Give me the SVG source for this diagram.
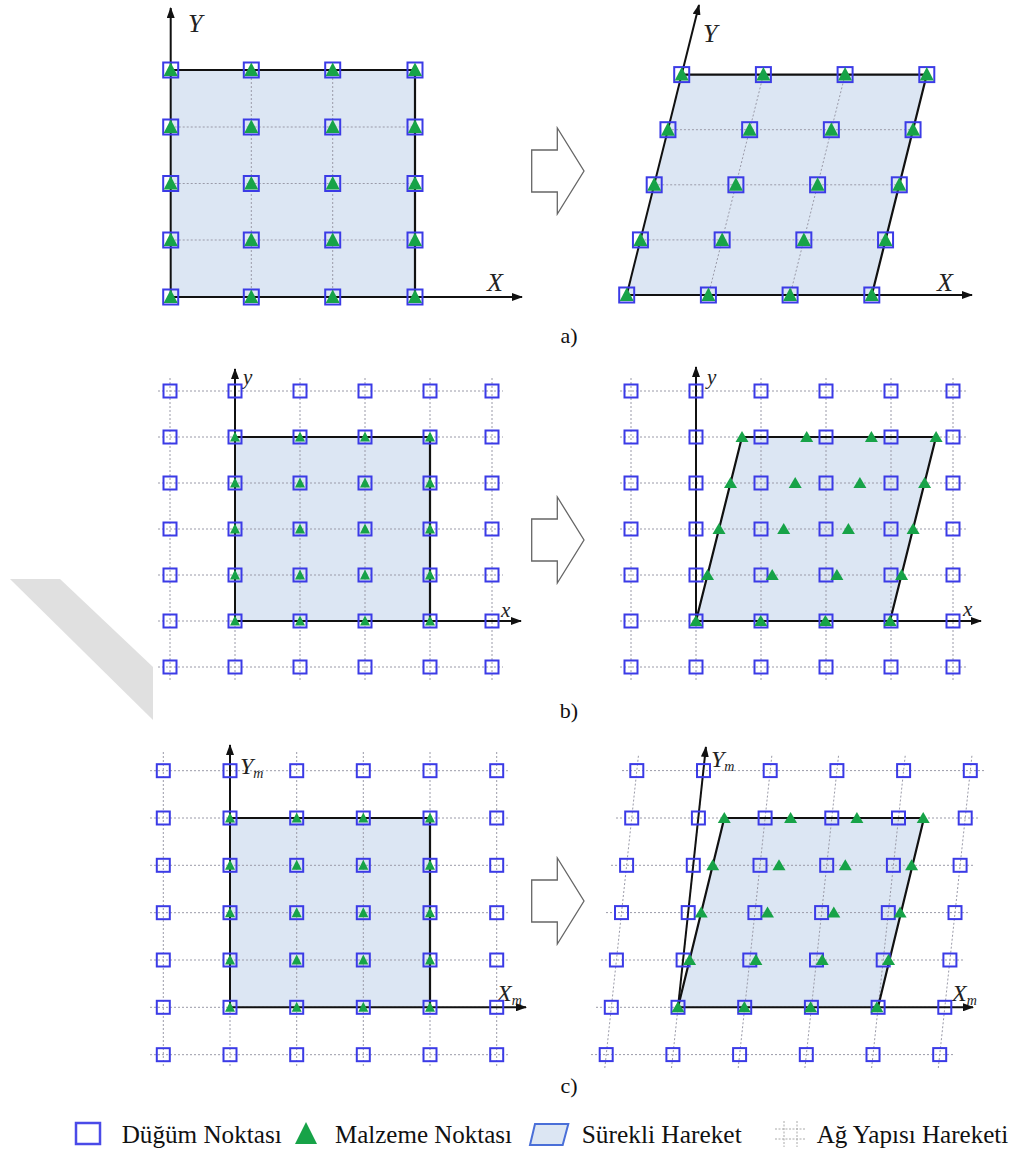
<svg xmlns="http://www.w3.org/2000/svg" width="1016" height="1153" viewBox="0 0 1016 1153">
<style>
.grid{fill:none;stroke:#9a9aa8;stroke-width:1;stroke-dasharray:2 2}
.mat{fill:#dce6f3;stroke:none}
.edge{fill:none;stroke:#111;stroke-width:2.2;stroke-linejoin:round}
.axis{stroke:#111;stroke-width:2;marker-end:url(#ah)}
.sq{fill:none;stroke:#3b3be6;stroke-width:2}
.tri{fill:#17a348}
.lbl{font-family:'Liberation Serif','DejaVu Serif',serif;font-style:italic;fill:#222}
.cap{font-family:'Liberation Serif','DejaVu Serif',serif;font-size:22px;fill:#111}
.leg{font-family:'Liberation Serif','DejaVu Serif',serif;font-size:26px;fill:#111}
.big{fill:#fff;stroke:#666;stroke-width:1.3}
.wm{fill:#e0e0e0}
</style>
<defs>
<marker id="ah" markerUnits="userSpaceOnUse" markerWidth="11" markerHeight="8" refX="10" refY="4" orient="auto"><path d="M0,0 L11,4 L0,8 Z" fill="#111"/></marker>
<rect id="sqA" class="sq" x="-7.5" y="-7.5" width="15" height="15"/>
<rect id="sq" class="sq" x="-6.5" y="-6.5" width="13" height="13"/>
<path id="triA" class="tri" d="M0,-7.5 L7,6 L-7,6 Z"/>
<path id="triS" class="tri" d="M0,-5.5 L5,4.5 L-5,4.5 Z"/>
<path id="triB" class="tri" d="M0,-6 L6.5,5 L-6.5,5 Z"/>
</defs>
<rect width="1016" height="1153" fill="#fff"/>
<polygon class="wm" points="10,579 60,579 153,667 153,720"/>

<!-- Panel a left -->
<g id="panel-a-left">
<rect class="mat" x="170.7" y="70" width="244.3" height="227"/>
<g class="grid">
<line x1="170.7" y1="127" x2="415" y2="127"/><line x1="170.7" y1="183.5" x2="415" y2="183.5"/><line x1="170.7" y1="240" x2="415" y2="240"/>
<line x1="251.3" y1="70" x2="251.3" y2="297"/><line x1="332.7" y1="70" x2="332.7" y2="297"/>
</g>
<path class="edge" d="M170.7,70 H415 V297"/>
<line class="axis" x1="170.7" y1="297" x2="170.7" y2="8"/>
<line class="axis" x1="170.7" y1="297" x2="522" y2="297"/>
<text class="lbl" x="188" y="32" font-size="26">Y</text>
<text class="lbl" x="487" y="291" font-size="26">X</text>
<g id="a-left-nodes">
<use href="#sqA" x="170.7" y="70"/><use href="#sqA" x="251.3" y="70"/><use href="#sqA" x="332.7" y="70"/><use href="#sqA" x="415" y="70"/>
<use href="#sqA" x="170.7" y="127"/><use href="#sqA" x="251.3" y="127"/><use href="#sqA" x="332.7" y="127"/><use href="#sqA" x="415" y="127"/>
<use href="#sqA" x="170.7" y="183.5"/><use href="#sqA" x="251.3" y="183.5"/><use href="#sqA" x="332.7" y="183.5"/><use href="#sqA" x="415" y="183.5"/>
<use href="#sqA" x="170.7" y="240"/><use href="#sqA" x="251.3" y="240"/><use href="#sqA" x="332.7" y="240"/><use href="#sqA" x="415" y="240"/>
<use href="#sqA" x="170.7" y="297"/><use href="#sqA" x="251.3" y="297"/><use href="#sqA" x="332.7" y="297"/><use href="#sqA" x="415" y="297"/>
</g>
<g id="a-left-material">
<use href="#triA" x="170.7" y="70"/><use href="#triA" x="251.3" y="70"/><use href="#triA" x="332.7" y="70"/><use href="#triA" x="415" y="70"/>
<use href="#triA" x="170.7" y="127"/><use href="#triA" x="251.3" y="127"/><use href="#triA" x="332.7" y="127"/><use href="#triA" x="415" y="127"/>
<use href="#triA" x="170.7" y="183.5"/><use href="#triA" x="251.3" y="183.5"/><use href="#triA" x="332.7" y="183.5"/><use href="#triA" x="415" y="183.5"/>
<use href="#triA" x="170.7" y="240"/><use href="#triA" x="251.3" y="240"/><use href="#triA" x="332.7" y="240"/><use href="#triA" x="415" y="240"/>
<use href="#triA" x="170.7" y="297"/><use href="#triA" x="251.3" y="297"/><use href="#triA" x="332.7" y="297"/><use href="#triA" x="415" y="297"/>
</g>
</g>

<!-- Panel a right -->
<g id="panel-a-right">
<polygon class="mat" points="626.7,295 871.8,295 926.8,74.6 681.7,74.6"/>
<g class="grid">
<line x1="640.45" y1="239.9" x2="885.55" y2="239.9"/><line x1="654.2" y1="184.8" x2="899.3" y2="184.8"/><line x1="667.95" y1="129.7" x2="913.05" y2="129.7"/>
<line x1="708.4" y1="295" x2="763.4" y2="74.6"/><line x1="790.1" y1="295" x2="845.1" y2="74.6"/>
</g>
<path class="edge" d="M681.7,74.6 H926.8 L871.8,295"/>
<line class="axis" x1="626.7" y1="295" x2="699" y2="5"/>
<line class="axis" x1="626.7" y1="295" x2="972" y2="295"/>
<text class="lbl" x="703" y="42" font-size="26">Y</text>
<text class="lbl" x="937" y="291" font-size="26">X</text>
<g id="a-right-nodes">
<use href="#sqA" x="626.7" y="295"/><use href="#sqA" x="708.4" y="295"/><use href="#sqA" x="790.1" y="295"/><use href="#sqA" x="871.8" y="295"/>
<use href="#sqA" x="640.45" y="239.9"/><use href="#sqA" x="722.15" y="239.9"/><use href="#sqA" x="803.85" y="239.9"/><use href="#sqA" x="885.55" y="239.9"/>
<use href="#sqA" x="654.2" y="184.8"/><use href="#sqA" x="735.9" y="184.8"/><use href="#sqA" x="817.6" y="184.8"/><use href="#sqA" x="899.3" y="184.8"/>
<use href="#sqA" x="667.95" y="129.7"/><use href="#sqA" x="749.65" y="129.7"/><use href="#sqA" x="831.35" y="129.7"/><use href="#sqA" x="913.05" y="129.7"/>
<use href="#sqA" x="681.7" y="74.6"/><use href="#sqA" x="763.4" y="74.6"/><use href="#sqA" x="845.1" y="74.6"/><use href="#sqA" x="926.8" y="74.6"/>
</g>
<g id="a-right-material">
<use href="#triA" x="626.7" y="295"/><use href="#triA" x="708.4" y="295"/><use href="#triA" x="790.1" y="295"/><use href="#triA" x="871.8" y="295"/>
<use href="#triA" x="640.45" y="239.9"/><use href="#triA" x="722.15" y="239.9"/><use href="#triA" x="803.85" y="239.9"/><use href="#triA" x="885.55" y="239.9"/>
<use href="#triA" x="654.2" y="184.8"/><use href="#triA" x="735.9" y="184.8"/><use href="#triA" x="817.6" y="184.8"/><use href="#triA" x="899.3" y="184.8"/>
<use href="#triA" x="667.95" y="129.7"/><use href="#triA" x="749.65" y="129.7"/><use href="#triA" x="831.35" y="129.7"/><use href="#triA" x="913.05" y="129.7"/>
<use href="#triA" x="681.7" y="74.6"/><use href="#triA" x="763.4" y="74.6"/><use href="#triA" x="845.1" y="74.6"/><use href="#triA" x="926.8" y="74.6"/>
</g>
</g>

<g id="arrow-a"><path class="big" d="M531.7,150 H557.3 V128 L584,171 L557.3,214 V192 H531.7 Z"/></g>
<text class="cap" x="569" y="343" text-anchor="middle">a)</text>

<!-- Panel b left -->
<g id="panel-b-left">
<rect class="mat" x="235" y="437" width="195" height="184"/>
<g class="grid">
<line x1="158" y1="391" x2="503" y2="391"/><line x1="158" y1="437" x2="503" y2="437"/><line x1="158" y1="483" x2="503" y2="483"/><line x1="158" y1="529" x2="503" y2="529"/><line x1="158" y1="575" x2="503" y2="575"/><line x1="158" y1="621" x2="503" y2="621"/><line x1="158" y1="667" x2="503" y2="667"/>
<line x1="170" y1="378" x2="170" y2="680"/><line x1="235" y1="378" x2="235" y2="680"/><line x1="300" y1="378" x2="300" y2="680"/><line x1="365" y1="378" x2="365" y2="680"/><line x1="430" y1="378" x2="430" y2="680"/><line x1="492" y1="378" x2="492" y2="680"/>
</g>
<path class="edge" d="M235,437 H430 V621"/>
<line class="axis" x1="235" y1="621" x2="235" y2="369"/>
<line class="axis" x1="235" y1="621" x2="521" y2="621"/>
<text class="lbl" x="243" y="384" font-size="21">y</text>
<text class="lbl" x="501" y="617" font-size="21">x</text>
<g id="b-left-nodes">
<use href="#sq" x="170" y="391"/><use href="#sq" x="235" y="391"/><use href="#sq" x="300" y="391"/><use href="#sq" x="365" y="391"/><use href="#sq" x="430" y="391"/><use href="#sq" x="492" y="391"/>
<use href="#sq" x="170" y="437"/><use href="#sq" x="235" y="437"/><use href="#sq" x="300" y="437"/><use href="#sq" x="365" y="437"/><use href="#sq" x="430" y="437"/><use href="#sq" x="492" y="437"/>
<use href="#sq" x="170" y="483"/><use href="#sq" x="235" y="483"/><use href="#sq" x="300" y="483"/><use href="#sq" x="365" y="483"/><use href="#sq" x="430" y="483"/><use href="#sq" x="492" y="483"/>
<use href="#sq" x="170" y="529"/><use href="#sq" x="235" y="529"/><use href="#sq" x="300" y="529"/><use href="#sq" x="365" y="529"/><use href="#sq" x="430" y="529"/><use href="#sq" x="492" y="529"/>
<use href="#sq" x="170" y="575"/><use href="#sq" x="235" y="575"/><use href="#sq" x="300" y="575"/><use href="#sq" x="365" y="575"/><use href="#sq" x="430" y="575"/><use href="#sq" x="492" y="575"/>
<use href="#sq" x="170" y="621"/><use href="#sq" x="235" y="621"/><use href="#sq" x="300" y="621"/><use href="#sq" x="365" y="621"/><use href="#sq" x="430" y="621"/><use href="#sq" x="492" y="621"/>
<use href="#sq" x="170" y="667"/><use href="#sq" x="235" y="667"/><use href="#sq" x="300" y="667"/><use href="#sq" x="365" y="667"/><use href="#sq" x="430" y="667"/><use href="#sq" x="492" y="667"/>
</g>
<g id="b-left-material">
<use href="#triS" x="235" y="437"/><use href="#triS" x="300" y="437"/><use href="#triS" x="365" y="437"/><use href="#triS" x="430" y="437"/>
<use href="#triS" x="235" y="483"/><use href="#triS" x="300" y="483"/><use href="#triS" x="365" y="483"/><use href="#triS" x="430" y="483"/>
<use href="#triS" x="235" y="529"/><use href="#triS" x="300" y="529"/><use href="#triS" x="365" y="529"/><use href="#triS" x="430" y="529"/>
<use href="#triS" x="235" y="575"/><use href="#triS" x="300" y="575"/><use href="#triS" x="365" y="575"/><use href="#triS" x="430" y="575"/>
<use href="#triS" x="235" y="621"/><use href="#triS" x="300" y="621"/><use href="#triS" x="365" y="621"/><use href="#triS" x="430" y="621"/>
</g>
</g>

<!-- Panel b right -->
<g id="panel-b-right">
<polygon class="mat" points="696,621 890,621 936,437 742,437"/>
<g class="grid">
<line x1="620" y1="391" x2="967" y2="391"/><line x1="620" y1="437" x2="967" y2="437"/><line x1="620" y1="483" x2="967" y2="483"/><line x1="620" y1="529" x2="967" y2="529"/><line x1="620" y1="575" x2="967" y2="575"/><line x1="620" y1="621" x2="967" y2="621"/><line x1="620" y1="667" x2="967" y2="667"/>
<line x1="631" y1="378" x2="631" y2="680"/><line x1="696" y1="378" x2="696" y2="680"/><line x1="761" y1="378" x2="761" y2="680"/><line x1="826" y1="378" x2="826" y2="680"/><line x1="891" y1="378" x2="891" y2="680"/><line x1="953" y1="378" x2="953" y2="680"/>
</g>
<path class="edge" d="M696,621 L742,437 H936 L890,621"/>
<line class="axis" x1="696" y1="621" x2="696" y2="367"/>
<line class="axis" x1="696" y1="621" x2="981" y2="621"/>
<text class="lbl" x="707" y="384" font-size="21">y</text>
<text class="lbl" x="963" y="616" font-size="21">x</text>
<g id="b-right-nodes">
<use href="#sq" x="631" y="391"/><use href="#sq" x="696" y="391"/><use href="#sq" x="761" y="391"/><use href="#sq" x="826" y="391"/><use href="#sq" x="891" y="391"/><use href="#sq" x="953" y="391"/>
<use href="#sq" x="631" y="437"/><use href="#sq" x="696" y="437"/><use href="#sq" x="761" y="437"/><use href="#sq" x="826" y="437"/><use href="#sq" x="891" y="437"/><use href="#sq" x="953" y="437"/>
<use href="#sq" x="631" y="483"/><use href="#sq" x="696" y="483"/><use href="#sq" x="761" y="483"/><use href="#sq" x="826" y="483"/><use href="#sq" x="891" y="483"/><use href="#sq" x="953" y="483"/>
<use href="#sq" x="631" y="529"/><use href="#sq" x="696" y="529"/><use href="#sq" x="761" y="529"/><use href="#sq" x="826" y="529"/><use href="#sq" x="891" y="529"/><use href="#sq" x="953" y="529"/>
<use href="#sq" x="631" y="575"/><use href="#sq" x="696" y="575"/><use href="#sq" x="761" y="575"/><use href="#sq" x="826" y="575"/><use href="#sq" x="891" y="575"/><use href="#sq" x="953" y="575"/>
<use href="#sq" x="631" y="621"/><use href="#sq" x="696" y="621"/><use href="#sq" x="761" y="621"/><use href="#sq" x="826" y="621"/><use href="#sq" x="891" y="621"/><use href="#sq" x="953" y="621"/>
<use href="#sq" x="631" y="667"/><use href="#sq" x="696" y="667"/><use href="#sq" x="761" y="667"/><use href="#sq" x="826" y="667"/><use href="#sq" x="891" y="667"/><use href="#sq" x="953" y="667"/>
</g>
<g id="b-right-material">
<use href="#triB" x="696" y="621"/><use href="#triB" x="760.7" y="621"/><use href="#triB" x="825.4" y="621"/><use href="#triB" x="890.1" y="621"/>
<use href="#triB" x="707.5" y="575"/><use href="#triB" x="772.2" y="575"/><use href="#triB" x="836.9" y="575"/><use href="#triB" x="901.6" y="575"/>
<use href="#triB" x="719" y="529"/><use href="#triB" x="783.7" y="529"/><use href="#triB" x="848.4" y="529"/><use href="#triB" x="913.1" y="529"/>
<use href="#triB" x="730.5" y="483"/><use href="#triB" x="795.2" y="483"/><use href="#triB" x="859.9" y="483"/><use href="#triB" x="924.6" y="483"/>
<use href="#triB" x="742" y="437"/><use href="#triB" x="806.7" y="437"/><use href="#triB" x="871.4" y="437"/><use href="#triB" x="936.1" y="437"/>
</g>
</g>

<g id="arrow-b"><path class="big" d="M531.7,519 H557.3 V497 L584,540 L557.3,583 V561 H531.7 Z"/></g>
<text class="cap" x="569" y="718" text-anchor="middle">b)</text>

<!-- Panel c left -->
<g id="panel-c-left">
<rect class="mat" x="230" y="818" width="200" height="189.3"/>
<g class="grid">
<line x1="150" y1="770.7" x2="510" y2="770.7"/><line x1="150" y1="818" x2="510" y2="818"/><line x1="150" y1="865.3" x2="510" y2="865.3"/><line x1="150" y1="912.7" x2="510" y2="912.7"/><line x1="150" y1="960" x2="510" y2="960"/><line x1="150" y1="1007.3" x2="510" y2="1007.3"/><line x1="150" y1="1054.7" x2="510" y2="1054.7"/>
<line x1="163.3" y1="752" x2="163.3" y2="1068"/><line x1="230" y1="752" x2="230" y2="1068"/><line x1="296.7" y1="752" x2="296.7" y2="1068"/><line x1="363.3" y1="752" x2="363.3" y2="1068"/><line x1="430" y1="752" x2="430" y2="1068"/><line x1="496.7" y1="752" x2="496.7" y2="1068"/>
</g>
<path class="edge" d="M230,818 H430 V1007.3"/>
<line class="axis" x1="230" y1="1007.3" x2="230" y2="745"/>
<line class="axis" x1="230" y1="1007.3" x2="526" y2="1007.3"/>
<text class="lbl" x="240" y="774" font-size="24">Y<tspan font-size="14" dy="4">m</tspan></text>
<text class="lbl" x="497" y="1001" font-size="24">X<tspan font-size="14" dy="4">m</tspan></text>
<g id="c-left-nodes">
<use href="#sq" x="163.3" y="770.7"/><use href="#sq" x="230" y="770.7"/><use href="#sq" x="296.7" y="770.7"/><use href="#sq" x="363.3" y="770.7"/><use href="#sq" x="430" y="770.7"/><use href="#sq" x="496.7" y="770.7"/>
<use href="#sq" x="163.3" y="818"/><use href="#sq" x="230" y="818"/><use href="#sq" x="296.7" y="818"/><use href="#sq" x="363.3" y="818"/><use href="#sq" x="430" y="818"/><use href="#sq" x="496.7" y="818"/>
<use href="#sq" x="163.3" y="865.3"/><use href="#sq" x="230" y="865.3"/><use href="#sq" x="296.7" y="865.3"/><use href="#sq" x="363.3" y="865.3"/><use href="#sq" x="430" y="865.3"/><use href="#sq" x="496.7" y="865.3"/>
<use href="#sq" x="163.3" y="912.7"/><use href="#sq" x="230" y="912.7"/><use href="#sq" x="296.7" y="912.7"/><use href="#sq" x="363.3" y="912.7"/><use href="#sq" x="430" y="912.7"/><use href="#sq" x="496.7" y="912.7"/>
<use href="#sq" x="163.3" y="960"/><use href="#sq" x="230" y="960"/><use href="#sq" x="296.7" y="960"/><use href="#sq" x="363.3" y="960"/><use href="#sq" x="430" y="960"/><use href="#sq" x="496.7" y="960"/>
<use href="#sq" x="163.3" y="1007.3"/><use href="#sq" x="230" y="1007.3"/><use href="#sq" x="296.7" y="1007.3"/><use href="#sq" x="363.3" y="1007.3"/><use href="#sq" x="430" y="1007.3"/><use href="#sq" x="496.7" y="1007.3"/>
<use href="#sq" x="163.3" y="1054.7"/><use href="#sq" x="230" y="1054.7"/><use href="#sq" x="296.7" y="1054.7"/><use href="#sq" x="363.3" y="1054.7"/><use href="#sq" x="430" y="1054.7"/><use href="#sq" x="496.7" y="1054.7"/>
</g>
<g id="c-left-material">
<use href="#triS" x="230" y="818"/><use href="#triS" x="296.7" y="818"/><use href="#triS" x="363.3" y="818"/><use href="#triS" x="430" y="818"/>
<use href="#triS" x="230" y="865.3"/><use href="#triS" x="296.7" y="865.3"/><use href="#triS" x="363.3" y="865.3"/><use href="#triS" x="430" y="865.3"/>
<use href="#triS" x="230" y="912.7"/><use href="#triS" x="296.7" y="912.7"/><use href="#triS" x="363.3" y="912.7"/><use href="#triS" x="430" y="912.7"/>
<use href="#triS" x="230" y="960"/><use href="#triS" x="296.7" y="960"/><use href="#triS" x="363.3" y="960"/><use href="#triS" x="430" y="960"/>
<use href="#triS" x="230" y="1007.3"/><use href="#triS" x="296.7" y="1007.3"/><use href="#triS" x="363.3" y="1007.3"/><use href="#triS" x="430" y="1007.3"/>
</g>
</g>

<!-- Panel c right -->
<g id="panel-c-right">
<polygon class="mat" points="678,1007.3 878,1007.3 924,818 724.3,818"/>
<g class="grid">
<line x1="591" y1="1054.6" x2="955" y2="1054.6"/><line x1="596" y1="1007.3" x2="960" y2="1007.3"/><line x1="601" y1="960" x2="965" y2="960"/><line x1="606" y1="912.6" x2="970" y2="912.6"/><line x1="611" y1="865.3" x2="975" y2="865.3"/><line x1="616" y1="818" x2="980" y2="818"/><line x1="622" y1="770.6" x2="985" y2="770.6"/>
<line x1="604.8" y1="1068" x2="638.5" y2="755"/><line x1="671.5" y1="1068" x2="705.2" y2="755"/><line x1="738.2" y1="1068" x2="771.9" y2="755"/><line x1="804.9" y1="1068" x2="838.6" y2="755"/><line x1="871.6" y1="1068" x2="905.3" y2="755"/><line x1="938.3" y1="1068" x2="972" y2="755"/>
</g>
<path class="edge" d="M678,1007.3 L724.3,818 H924 L878,1007.3"/>
<line class="axis" x1="678" y1="1007.3" x2="705.9" y2="747"/>
<line class="axis" x1="678" y1="1007.3" x2="973" y2="1007.3"/>
<text class="lbl" x="711" y="767" font-size="24">Y<tspan font-size="14" dy="4">m</tspan></text>
<text class="lbl" x="952" y="1001" font-size="24">X<tspan font-size="14" dy="4">m</tspan></text>
<g id="c-right-nodes">
<use href="#sq" x="606.2" y="1054.6"/><use href="#sq" x="672.9" y="1054.6"/><use href="#sq" x="739.6" y="1054.6"/><use href="#sq" x="806.3" y="1054.6"/><use href="#sq" x="873" y="1054.6"/><use href="#sq" x="939.7" y="1054.6"/>
<use href="#sq" x="611.3" y="1007.3"/><use href="#sq" x="678" y="1007.3"/><use href="#sq" x="744.7" y="1007.3"/><use href="#sq" x="811.4" y="1007.3"/><use href="#sq" x="878.1" y="1007.3"/><use href="#sq" x="944.8" y="1007.3"/>
<use href="#sq" x="616.4" y="960"/><use href="#sq" x="683.1" y="960"/><use href="#sq" x="749.8" y="960"/><use href="#sq" x="816.5" y="960"/><use href="#sq" x="883.2" y="960"/><use href="#sq" x="949.9" y="960"/>
<use href="#sq" x="621.5" y="912.6"/><use href="#sq" x="688.2" y="912.6"/><use href="#sq" x="754.9" y="912.6"/><use href="#sq" x="821.6" y="912.6"/><use href="#sq" x="888.3" y="912.6"/><use href="#sq" x="955" y="912.6"/>
<use href="#sq" x="626.6" y="865.3"/><use href="#sq" x="693.3" y="865.3"/><use href="#sq" x="760" y="865.3"/><use href="#sq" x="826.7" y="865.3"/><use href="#sq" x="893.4" y="865.3"/><use href="#sq" x="960.1" y="865.3"/>
<use href="#sq" x="631.7" y="818"/><use href="#sq" x="698.4" y="818"/><use href="#sq" x="765.1" y="818"/><use href="#sq" x="831.8" y="818"/><use href="#sq" x="898.5" y="818"/><use href="#sq" x="965.2" y="818"/>
<use href="#sq" x="636.8" y="770.6"/><use href="#sq" x="703.5" y="770.6"/><use href="#sq" x="770.2" y="770.6"/><use href="#sq" x="836.9" y="770.6"/><use href="#sq" x="903.6" y="770.6"/><use href="#sq" x="970.3" y="770.6"/>
</g>
<g id="c-right-material">
<use href="#triB" x="678" y="1007.3"/><use href="#triB" x="744.3" y="1007.3"/><use href="#triB" x="810.6" y="1007.3"/><use href="#triB" x="876.9" y="1007.3"/>
<use href="#triB" x="689.6" y="960"/><use href="#triB" x="755.9" y="960"/><use href="#triB" x="822.2" y="960"/><use href="#triB" x="888.5" y="960"/>
<use href="#triB" x="701.2" y="912.6"/><use href="#triB" x="767.5" y="912.6"/><use href="#triB" x="833.8" y="912.6"/><use href="#triB" x="900.1" y="912.6"/>
<use href="#triB" x="712.7" y="865.3"/><use href="#triB" x="779" y="865.3"/><use href="#triB" x="845.3" y="865.3"/><use href="#triB" x="911.6" y="865.3"/>
<use href="#triB" x="724.3" y="818"/><use href="#triB" x="790.6" y="818"/><use href="#triB" x="856.9" y="818"/><use href="#triB" x="923.2" y="818"/>
</g>
</g>

<g id="arrow-c"><path class="big" d="M531.7,880 H557.3 V858 L584,901 L557.3,944 V922 H531.7 Z"/></g>
<text class="cap" x="569" y="1093" text-anchor="middle">c)</text>

<!-- Legend -->
<g id="legend">
<g id="leg-node"><rect x="76" y="1123" width="24" height="21" fill="#fff" stroke="#4a4ae8" stroke-width="2.5"/>
<text class="leg" x="121.7" y="1143" textLength="160" lengthAdjust="spacingAndGlyphs">Düğüm Noktası</text></g>
<g id="leg-material"><path d="M306,1122 L317,1144 L295,1144 Z" fill="#17a348"/>
<text class="leg" x="335" y="1143" textLength="177" lengthAdjust="spacingAndGlyphs">Malzeme Noktası</text></g>
<g id="leg-continuous"><polygon points="535,1124 568.3,1124 562.7,1145 530,1145" fill="#dce6f3" stroke="#4a6fd8" stroke-width="2"/>
<text class="leg" x="581.7" y="1143" textLength="160" lengthAdjust="spacingAndGlyphs">Sürekli Hareket</text></g>
<g id="leg-mesh"><g stroke="#aaa" stroke-width="1" stroke-dasharray="2 1.5"><line x1="784" y1="1121" x2="784" y2="1147"/><line x1="797" y1="1121" x2="797" y2="1147"/><line x1="775" y1="1129" x2="806" y2="1129"/><line x1="775" y1="1139" x2="806" y2="1139"/></g>
<text class="leg" x="816.7" y="1143" textLength="191.6" lengthAdjust="spacingAndGlyphs">Ağ Yapısı Hareketi</text></g>
</g>
</svg>
